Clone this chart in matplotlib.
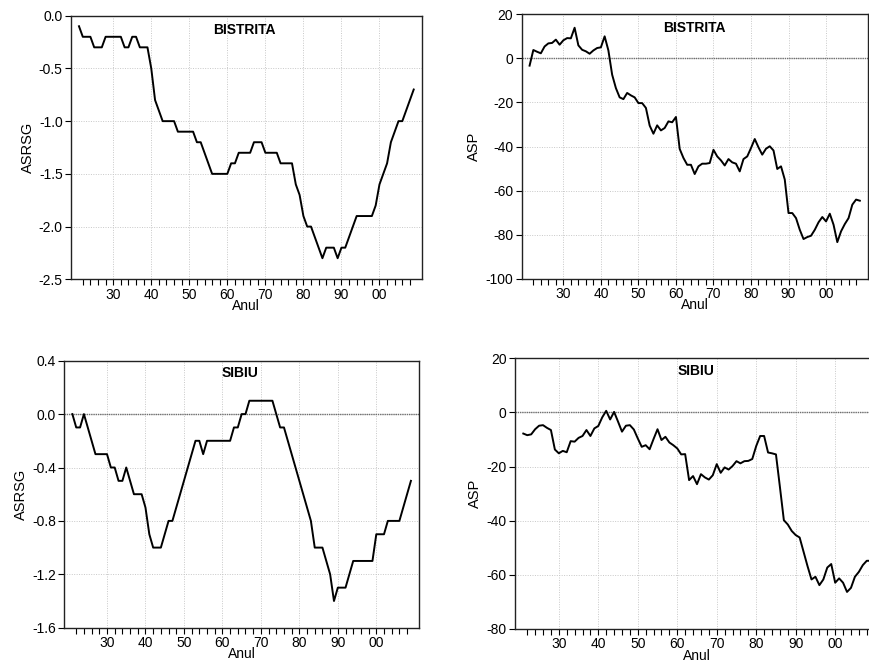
import numpy as np
import matplotlib.pyplot as plt

plt.rcParams['font.family'] = ['Liberation Sans', 'DejaVu Sans']

years = np.arange(1921, 2010)

asrsg_bistrita = [
    -0.1, -0.2, -0.2, -0.2, -0.3, -0.3, -0.3, -0.2, -0.2, -0.2,
    -0.2, -0.2, -0.3, -0.3, -0.2, -0.2, -0.3, -0.3, -0.3, -0.5,
    -0.8, -0.9, -1.0, -1.0, -1.0, -1.0, -1.1, -1.1, -1.1, -1.1,
    -1.1, -1.2, -1.2, -1.3, -1.4, -1.5, -1.5, -1.5, -1.5, -1.5,
    -1.4, -1.4, -1.3, -1.3, -1.3, -1.3, -1.2, -1.2, -1.2, -1.3,
    -1.3, -1.3, -1.3, -1.4, -1.4, -1.4, -1.4, -1.6, -1.7, -1.9,
    -2.0, -2.0, -2.1, -2.2, -2.3, -2.2, -2.2, -2.2, -2.3, -2.2,
    -2.2, -2.1, -2.0, -1.9, -1.9, -1.9, -1.9, -1.9, -1.8, -1.6,
    -1.5, -1.4, -1.2, -1.1, -1.0, -1.0, -0.9, -0.8, -0.7,
]

asp_bistrita = [
    -3.3, 3.8, 3.0, 2.3, 5.4, 6.8, 7.0, 8.5, 6.2, 8.2,
    9.2, 9.1, 13.9, 5.9, 3.9, 3.2, 2.1, 3.6, 4.7, 5.0,
    10.0, 3.6, -7.4, -13.5, -17.7, -18.5, -15.7, -16.8, -17.7, -20.3,
    -20.3, -22.5, -30.5, -34.2, -30.4, -32.7, -31.6, -28.6, -29.0, -26.6,
    -41.1, -45.2, -48.3, -48.3, -52.5, -49.0, -47.8, -47.8, -47.5, -41.5,
    -44.5, -46.3, -48.6, -45.7, -47.2, -47.8, -51.3, -45.7, -44.5, -40.7,
    -36.6, -40.4, -43.7, -41.0, -39.9, -41.8, -50.2, -49.0, -55.0, -70.2,
    -70.2, -72.5, -77.8, -82.0, -81.1, -80.5, -77.8, -74.4, -72.0, -74.0,
    -70.5, -75.5, -83.4, -78.5, -75.2, -72.5, -66.4, -64.1, -64.6,
]

asrsg_sibiu = [
    0.0, -0.1, -0.1, 0.0, -0.1, -0.2, -0.3, -0.3, -0.3, -0.3,
    -0.4, -0.4, -0.5, -0.5, -0.4, -0.5, -0.6, -0.6, -0.6, -0.7,
    -0.9, -1.0, -1.0, -1.0, -0.9, -0.8, -0.8, -0.7, -0.6, -0.5,
    -0.4, -0.3, -0.2, -0.2, -0.3, -0.2, -0.2, -0.2, -0.2, -0.2,
    -0.2, -0.2, -0.1, -0.1, 0.0, 0.0, 0.1, 0.1, 0.1, 0.1,
    0.1, 0.1, 0.1, 0.0, -0.1, -0.1, -0.2, -0.3, -0.4, -0.5,
    -0.6, -0.7, -0.8, -1.0, -1.0, -1.0, -1.1, -1.2, -1.4, -1.3,
    -1.3, -1.3, -1.2, -1.1, -1.1, -1.1, -1.1, -1.1, -1.1, -0.9,
    -0.9, -0.9, -0.8, -0.8, -0.8, -0.8, -0.7, -0.6, -0.5,
]

asp_sibiu = [
    -7.8, -8.4, -8.1, -6.2, -4.9, -4.7, -5.7, -6.5, -13.7, -15.1,
    -14.2, -14.7, -10.6, -10.8, -9.4, -8.7, -6.5, -8.7, -5.9, -5.0,
    -1.8, 0.6, -2.6, 0.2, -3.4, -7.1, -4.9, -4.7, -6.3, -9.6,
    -12.7, -12.1, -13.6, -9.8, -6.2, -10.2, -9.0, -11.1, -12.1, -13.3,
    -15.5, -15.4, -25.0, -23.5, -26.5, -22.8, -24.0, -24.8, -23.2, -19.1,
    -22.3, -20.3, -21.1, -19.8, -18.0, -18.8, -18.0, -17.9, -17.2, -12.4,
    -8.7, -8.7, -14.8, -15.1, -15.5, -27.5, -39.8, -41.4, -43.8, -45.3,
    -46.2, -51.5, -56.8, -61.7, -60.7, -63.8, -61.7, -57.3, -56.0, -62.9,
    -61.3, -62.9, -66.3, -64.8, -60.7, -58.9, -56.4, -54.8, -54.8,
]

W, H = 869, 668
fig = plt.figure(figsize=(W / 100, H / 100), dpi=100)


def px_axes(left, top, right, bottom):
    return fig.add_axes([left / W, 1 - bottom / H, (right - left) / W, (bottom - top) / H])


panels = [
    # (box in px, series, ylabel, title, ylim, ystep, decimals, title_x, title_y)
    ((71, 15.7, 421.7, 279.3), asrsg_bistrita, 'ASRSG', 'BISTRITA', (-2.5, 0.0), 0.5, 1, 244, 30),
    ((521.7, 14.3, 867.7, 278.7), asp_bistrita, 'ASP', 'BISTRITA', (-100, 20), 20, 0, 694, 28),
    ((64.3, 360.7, 419, 627.7), asrsg_sibiu, 'ASRSG', 'SIBIU', (-1.6, 0.4), 0.4, 1, 240, 373),
    ((515, 358.3, 879, 629), asp_sibiu, 'ASP', 'SIBIU', (-80, 20), 20, 0, 696, 371),
]

for box, series, ylab, title, ylim, ystep, dec, tx, ty in panels:
    ax = px_axes(*box)
    ax.set_xlim(1918.9, 2011.1)
    ax.set_ylim(*ylim)

    yt = np.arange(ylim[0], ylim[1] + ystep / 2, ystep)
    ax.set_yticks(yt)
    ax.set_yticklabels(['%.*f' % (dec, round(v, dec) + 0.0) for v in yt])

    xt = np.arange(1922, 2010, 2)
    ax.set_xticks(xt)
    ax.set_xticklabels(['%02d' % (y % 100) if y % 10 == 0 else '' for y in xt])

    ax.tick_params(axis='both', direction='out', length=4, width=0.8,
                   labelsize=10, colors='black', pad=2)

    # grid lines (decades / major y ticks)
    for y in range(1930, 2010, 10):
        ax.axvline(y, color='#c8c8c8', lw=0.7, ls=(0, (1, 1.5)), zorder=0)
    for v in yt:
        ax.axhline(v, color='#c8c8c8', lw=0.7, ls=(0, (1, 1.5)), zorder=0)

    if ylim[0] < 0 < ylim[1]:
        ax.axhline(0, color='#707070', lw=1.0, ls=(0, (1, 0.6)), zorder=1)

    ax.plot(years, series, color='black', lw=1.4, zorder=3)

    for s in ax.spines.values():
        s.set_linewidth(1.0)
        s.set_color('#222222')

    ax.set_ylabel(ylab, fontsize=10.5, labelpad=3)
    ax.set_xlabel('Anul', fontsize=10, labelpad=-2)
    fig.text(tx / W, 1 - ty / H, title, fontsize=10, fontweight='bold',
             ha='center', va='center')

fig.savefig('out.png', dpi=100)
